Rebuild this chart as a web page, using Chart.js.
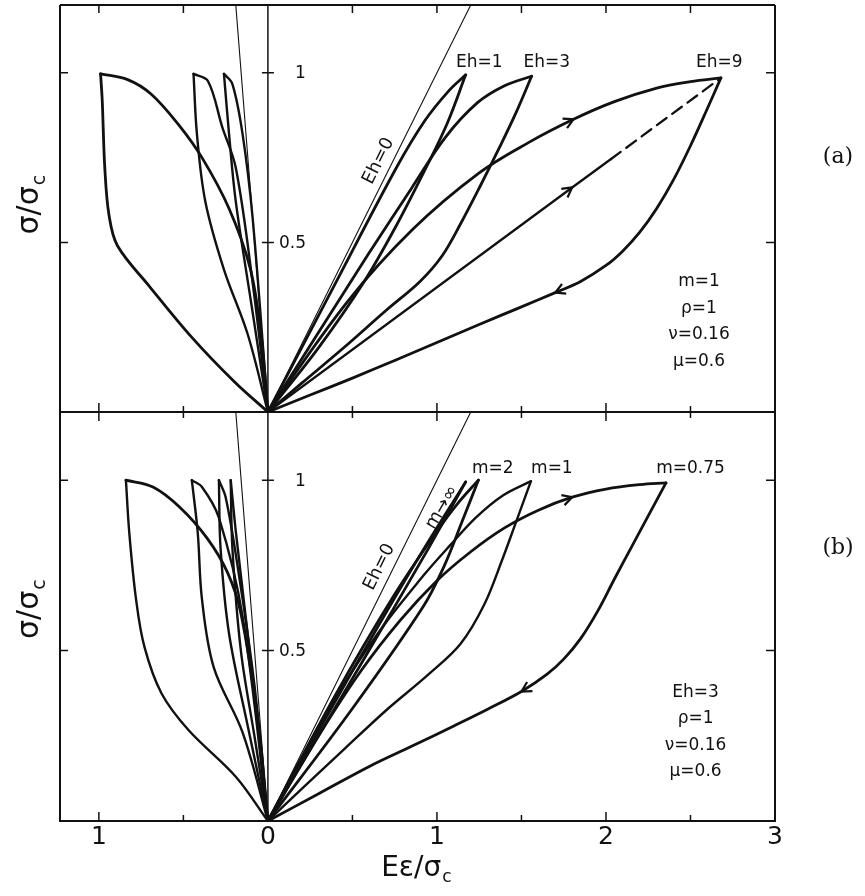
<!DOCTYPE html>
<html>
<head>
<meta charset="utf-8">
<title>Cyclic stress-strain loops</title>
<script src="https://cdn.jsdelivr.net/npm/chart.js@4.4.1/dist/chart.umd.min.js"></script>
<style>
  html, body { margin: 0; padding: 0; background: #fff; }
  #wrap { position: relative; width: 865px; height: 896px; }
  #wrap canvas { position: absolute; left: 0; top: 0; }
</style>
</head>
<body>
<div id="wrap">
  <canvas id="panelA" width="865" height="896"></canvas>
  <canvas id="panelB" width="865" height="896"></canvas>
</div>
<script>
/* ============================================
   DATA   (x = Eε/σc , y = σ/σc)
   ============================================ */
const X_MIN = -1.23, X_MAX = 3, Y_MIN = 0, Y_MAX = 1.2;
const xTickValues = [-1, -0.5, 0.5, 1, 1.5, 2, 2.5];
const xLabelValues = [-1, 0, 1, 2, 3];
const xLabelTexts = ['1', '0', '1', '2', '3'];
const yTickValues = [0.5, 1];
const yTickTexts = ['0.5', '1'];

// panel (a): m = 1, Eh = 0, 1, 3, 9
const aEh0Axial   = [[0, 0], [1.2, 1.2]];
const aEh0Lateral = [[0, 0], [-0.19, 1.2]];
const aEh1Load    = [[0, 0], [0.4, 0.38], [0.76, 0.72], [0.93, 0.86], [1.07, 0.947], [1.17, 0.994]];
const aEh1Unload  = [[1.17, 0.994], [1.06, 0.85], [0.94, 0.725], [0.76, 0.55], [0.57, 0.385], [0.3, 0.19], [0, 0]];
const aEh3Load    = [[0, 0], [0.3, 0.235], [0.6, 0.47], [0.85, 0.66], [1.05, 0.81], [1.24, 0.912], [1.4, 0.962], [1.56, 0.99]];
const aEh3Unload  = [[1.56, 0.99], [1.47, 0.885], [1.37, 0.78], [1.26, 0.67], [1.14, 0.555], [1.03, 0.46], [0.9, 0.385], [0.7, 0.3], [0.45, 0.19], [0.2, 0.085], [0, 0]];
const aEh9Load    = [[0, 0], [0.47, 0.325], [0.86, 0.54], [1.25, 0.705], [1.544, 0.795], [1.808, 0.863], [2.05, 0.915], [2.3, 0.955], [2.5, 0.974], [2.68, 0.985]];
const aEh9Secant  = [[0, 0], [1.8, 0.662], [2.03, 0.746], [2.68, 0.985]];
const aEh9Unload  = [[2.68, 0.985], [2.6, 0.895], [2.5, 0.785], [2.4, 0.685], [2.3, 0.6], [2.2, 0.53], [2.1, 0.475], [2.0, 0.432], [1.85, 0.385], [1.7, 0.352], [1.5, 0.31], [1.25, 0.258], [1.0, 0.205], [0.75, 0.152], [0.5, 0.1], [0.25, 0.05], [0, 0]];
const aEh1LatA    = [[-0.26, 0.997], [-0.21, 0.967], [-0.15, 0.82], [-0.09, 0.57], [0, 0]];
const aEh1LatB    = [[-0.26, 0.997], [-0.23, 0.82], [-0.19, 0.62], [-0.1, 0.325], [0, 0]];
const aEh3LatA    = [[-0.44, 0.997], [-0.355, 0.976], [-0.27, 0.84], [-0.19, 0.72], [-0.09, 0.38], [0, 0]];
const aEh3LatB    = [[-0.44, 0.997], [-0.42, 0.82], [-0.37, 0.62], [-0.26, 0.42], [-0.12, 0.23], [0, 0]];
const aEh9LatA    = [[-0.99, 0.997], [-0.83, 0.98], [-0.69, 0.937], [-0.53, 0.848], [-0.39, 0.75], [-0.23, 0.6], [-0.105, 0.424], [-0.04, 0.227], [0, 0]];
const aEh9LatB    = [[-0.99, 0.997], [-0.98, 0.917], [-0.965, 0.72], [-0.94, 0.58], [-0.89, 0.49], [-0.7, 0.37], [-0.45, 0.22], [-0.2, 0.09], [0, 0]];

// panel (b): Eh = 3, m = ∞, 2, 1, 0.75
const bEh0Axial   = [[0, 0], [1.2, 1.2]];
const bEh0Lateral = [[0, 0], [-0.19, 1.2]];
const bMinfLoad   = [[0, 0], [0.5, 0.44], [0.9, 0.78], [1.17, 0.995]];
const bMinfUnload = [[1.17, 0.995], [0.95, 0.8], [0.55, 0.46], [0, 0]];
const bM2Load     = [[0, 0], [0.4, 0.37], [0.75, 0.665], [1.0, 0.85], [1.12, 0.93], [1.245, 1.0]];
const bM2Unload   = [[1.245, 1.0], [1.15, 0.88], [1.04, 0.745], [0.92, 0.63], [0.5, 0.33], [0, 0]];
const bM1Load     = [[0, 0], [0.35, 0.32], [0.65, 0.55], [0.92, 0.72], [1.08, 0.81], [1.23, 0.89], [1.39, 0.955], [1.556, 0.997]];
const bM1Unload   = [[1.556, 0.997], [1.47, 0.88], [1.385, 0.765], [1.28, 0.635], [1.14, 0.52], [0.95, 0.43], [0.7, 0.325], [0.45, 0.21], [0.2, 0.094], [0, 0]];
const bM075Load   = [[0, 0], [0.3, 0.25], [0.55, 0.44], [0.785, 0.59], [1.0, 0.705], [1.2, 0.79], [1.4, 0.86], [1.6, 0.912], [1.8, 0.95], [2.0, 0.974], [2.2, 0.987], [2.355, 0.992]];
const bM075Unload = [[2.355, 0.992], [2.25, 0.895], [2.15, 0.803], [2.05, 0.71], [1.95, 0.615], [1.85, 0.535], [1.75, 0.475], [1.65, 0.43], [1.5, 0.38], [1.3, 0.328], [1.1, 0.279], [0.85, 0.219], [0.6, 0.16], [0.3, 0.08], [0, 0]];
const bM075LatA   = [[-0.84, 1.0], [-0.68, 0.98], [-0.52, 0.92], [-0.36, 0.83], [-0.24, 0.73], [-0.16, 0.61], [-0.06, 0.3], [0, 0]];
const bM075LatB   = [[-0.84, 1.0], [-0.82, 0.845], [-0.78, 0.65], [-0.73, 0.51], [-0.63, 0.375], [-0.47, 0.267], [-0.19, 0.13], [0, 0]];
const bM1LatA     = [[-0.45, 1.0], [-0.39, 0.98], [-0.29, 0.89], [-0.15, 0.6], [0, 0]];
const bM1LatB     = [[-0.45, 1.0], [-0.415, 0.845], [-0.39, 0.65], [-0.32, 0.45], [-0.15, 0.26], [0, 0]];
const bM2LatA     = [[-0.29, 1.0], [-0.25, 0.95], [-0.18, 0.75], [-0.08, 0.4], [0, 0]];
const bM2LatB     = [[-0.29, 1.0], [-0.28, 0.8], [-0.23, 0.55], [-0.12, 0.28], [0, 0]];
const bMinfLatA   = [[-0.22, 1.0], [-0.19, 0.85], [-0.12, 0.55], [0, 0]];
const bMinfLatB   = [[-0.22, 1.0], [-0.21, 0.8], [-0.16, 0.5], [-0.08, 0.25], [0, 0]];

// annotations
const aPeakTexts = ['Eh=1', 'Eh=3', 'Eh=9'];
const aPeakX = [1.25, 1.65, 2.67];
const aParamTexts = ['m=1', 'ρ=1', 'ν=0.16', 'μ=0.6'];
const aParamY = [0.385, 0.305, 0.228, 0.148];
const bPeakTexts = ['m=2', 'm=1', 'm=0.75'];
const bPeakX = [1.33, 1.68, 2.5];
const bParamTexts = ['Eh=3', 'ρ=1', 'ν=0.16', 'μ=0.6'];
const bParamY = [0.378, 0.3, 0.22, 0.144];

/* ============================================
   HELPERS
   ============================================ */
const FONT = '"DejaVu Sans", sans-serif';
const INK = '#111';
const pts = arr => arr.map(([x, y]) => ({ x, y }));

function curve(arr, width, extra) {
    return Object.assign({
        data: pts(arr),
        showLine: true,
        borderColor: INK,
        borderWidth: width,
        pointRadius: 0,
        tension: 0.35,
        fill: false,
        borderJoinStyle: 'round',
        borderCapStyle: 'round'
    }, extra || {});
}

function drawArrow(ctx, meta, i) {
    const p = meta.data[i], a = meta.data[i - 1], b = meta.data[i + 1];
    const ang = Math.atan2(b.y - a.y, b.x - a.x);
    const L = 11, s = 0.5;
    ctx.beginPath();
    ctx.moveTo(p.x - L * Math.cos(ang - s), p.y - L * Math.sin(ang - s));
    ctx.lineTo(p.x, p.y);
    ctx.lineTo(p.x - L * Math.cos(ang + s), p.y - L * Math.sin(ang + s));
    ctx.stroke();
}

function drawSubText(ctx, main, sub, cx, cy, size) {
    ctx.textAlign = 'left';
    ctx.textBaseline = 'middle';
    ctx.font = `${size}px ${FONT}`;
    const w1 = ctx.measureText(main).width;
    ctx.font = `${Math.round(size * 0.62)}px ${FONT}`;
    const w2 = ctx.measureText(sub).width;
    const x0 = cx - (w1 + w2) / 2;
    ctx.font = `${size}px ${FONT}`;
    ctx.fillText(main, x0, cy);
    ctx.font = `${Math.round(size * 0.62)}px ${FONT}`;
    ctx.fillText(sub, x0 + w1 + 1, cy + size * 0.32);
}

/* ============================================
   PANEL DECORATION (frame, ticks, labels)
   ============================================ */
const panelInfo = {
    panelA: {
        top: true, bottomAxis: false,
        peakTexts: aPeakTexts, peakX: aPeakX, peakY: 1.03,
        paramTexts: aParamTexts, paramY: aParamY, paramX: 2.55,
        rotated: [{ text: 'Eh=0', x: 0.655, y: 0.74, along: [1.2, 1.2] }],
        tag: '(a)', tagY: 0.75, titleY: 0.61
    },
    panelB: {
        top: false, bottomAxis: true,
        peakTexts: bPeakTexts, peakX: bPeakX, peakY: 1.035,
        paramTexts: bParamTexts, paramY: bParamY, paramX: 2.53,
        rotated: [
            { text: 'Eh=0', x: 0.66, y: 0.745, along: [1.2, 1.2] },
            { text: 'm→∞', x: 1.03, y: 0.92, along: [1.17, 0.995] }
        ],
        tag: '(b)', tagY: 0.8, titleY: 0.62
    }
};

const framePlugin = {
    id: 'frame',
    afterDatasetsDraw(chart) {
        const info = panelInfo[chart.canvas.id];
        const { ctx, chartArea: a, scales: { x, y } } = chart;
        ctx.save();
        ctx.strokeStyle = INK;
        ctx.fillStyle = INK;
        ctx.lineCap = 'butt';

        // arrows on loading / unloading branches
        ctx.lineWidth = 2.2;
        chart.data.datasets.forEach((ds, i) => {
            if (ds.arrowAt != null) drawArrow(ctx, chart.getDatasetMeta(i), ds.arrowAt);
        });

        // box
        ctx.lineWidth = 2;
        ctx.beginPath();
        if (info.top) { ctx.moveTo(a.left, a.top); ctx.lineTo(a.right, a.top); }
        ctx.moveTo(a.left, a.top); ctx.lineTo(a.left, a.bottom);
        ctx.moveTo(a.right, a.top); ctx.lineTo(a.right, a.bottom);
        ctx.moveTo(a.left - 1, a.bottom); ctx.lineTo(a.right + 1, a.bottom);
        ctx.stroke();

        // x ticks
        ctx.lineWidth = 1.5;
        xTickValues.forEach(v => {
            const px = x.getPixelForValue(v);
            const len = Number.isInteger(v) ? 9 : 6;
            ctx.beginPath();
            if (info.top) { ctx.moveTo(px, a.top); ctx.lineTo(px, a.top + 8); }
            ctx.moveTo(px, a.bottom - len);
            ctx.lineTo(px, a.bottom + (info.bottomAxis ? 0 : len));
            ctx.stroke();
        });

        // central axis at x = 0 with its ticks and labels
        const x0 = x.getPixelForValue(0);
        ctx.beginPath(); ctx.moveTo(x0, a.top); ctx.lineTo(x0, a.bottom); ctx.stroke();
        ctx.font = `17px ${FONT}`;
        ctx.textBaseline = 'middle';
        ctx.textAlign = 'left';
        yTickValues.forEach((v, i) => {
            const py = y.getPixelForValue(v);
            ctx.beginPath();
            ctx.moveTo(a.left, py); ctx.lineTo(a.left + 8, py);
            ctx.moveTo(a.right, py); ctx.lineTo(a.right - 9, py);
            ctx.moveTo(x0 - 6, py); ctx.lineTo(x0 + 6, py);
            ctx.stroke();
            ctx.fillText(yTickTexts[i], x0 + (v === 1 ? 27 : 11), py + 1);
        });

        // bottom tick labels and axis title
        if (info.bottomAxis) {
            ctx.font = `25px ${FONT}`;
            ctx.textAlign = 'center';
            ctx.textBaseline = 'top';
            xLabelValues.forEach((v, i) => {
                ctx.fillText(xLabelTexts[i], x.getPixelForValue(v), a.bottom + 4);
            });
            drawSubText(ctx, 'Eε/σ', 'c', x.getPixelForValue(0.875), a.bottom + 48, 28);
        }

        // peak labels
        ctx.font = `17px ${FONT}`;
        ctx.textAlign = 'center';
        ctx.textBaseline = 'middle';
        info.peakTexts.forEach((t, i) => {
            ctx.fillText(t, x.getPixelForValue(info.peakX[i]), y.getPixelForValue(info.peakY));
        });

        // parameter block
        info.paramTexts.forEach((t, i) => {
            ctx.fillText(t, x.getPixelForValue(info.paramX), y.getPixelForValue(info.paramY[i]));
        });

        // labels written along lines
        ctx.font = `18px ${FONT}`;
        info.rotated.forEach(r => {
            const dx = x.getPixelForValue(r.along[0]) - x0;
            const dy = y.getPixelForValue(r.along[1]) - y.getPixelForValue(0);
            ctx.save();
            ctx.translate(x.getPixelForValue(r.x), y.getPixelForValue(r.y));
            ctx.rotate(Math.atan2(dy, dx));
            ctx.fillText(r.text, 0, 0);
            ctx.restore();
        });

        // panel tag
        ctx.font = `22px "DejaVu Serif", serif`;
        ctx.fillText(info.tag, a.right + 63, y.getPixelForValue(info.tagY));

        // y title
        ctx.save();
        ctx.translate(a.left - 30, y.getPixelForValue(info.titleY));
        ctx.rotate(-Math.PI / 2);
        drawSubText(ctx, 'σ/σ', 'c', 0, 0, 30);
        ctx.restore();

        ctx.restore();
    }
};

/* ============================================
   CHARTS
   ============================================ */
function makePanel(id, datasets, padding) {
    return new Chart(document.getElementById(id), {
        type: 'scatter',
        data: { datasets },
        options: {
            responsive: false,
            animation: false,
            events: [],
            devicePixelRatio: 1,
            layout: { padding },
            plugins: { legend: { display: false }, tooltip: { enabled: false } },
            scales: {
                x: { type: 'linear', min: X_MIN, max: X_MAX, display: false },
                y: { type: 'linear', min: Y_MIN, max: Y_MAX, display: false }
            }
        },
        plugins: [framePlugin]
    });
}

const THICK = 2.8, LAT = 2.4, THIN = 1.1;

makePanel('panelA', [
    curve(aEh0Axial, THIN, { tension: 0 }),
    curve(aEh0Lateral, THIN, { tension: 0 }),
    curve(aEh1Load, THICK),
    curve(aEh1Unload, THICK),
    curve(aEh3Load, THICK),
    curve(aEh3Unload, THICK),
    curve(aEh9Load, THICK, { arrowAt: 5 }),
    curve(aEh9Secant, 2.3, {
        tension: 0, arrowAt: 1,
        segment: { borderDash: ctx => ctx.p0DataIndex >= 2 ? [12, 7] : undefined }
    }),
    curve(aEh9Unload, THICK, { arrowAt: 9 }),
    curve(aEh1LatA, LAT),
    curve(aEh1LatB, LAT),
    curve(aEh3LatA, LAT),
    curve(aEh3LatB, LAT),
    curve(aEh9LatA, THICK),
    curve(aEh9LatB, THICK)
], { left: 60, right: 90, top: 5, bottom: 484 });

makePanel('panelB', [
    curve(bEh0Axial, THIN, { tension: 0 }),
    curve(bEh0Lateral, THIN, { tension: 0 }),
    curve(bMinfLoad, THICK),
    curve(bMinfUnload, THICK),
    curve(bM2Load, THICK),
    curve(bM2Unload, THICK),
    curve(bM1Load, LAT),
    curve(bM1Unload, LAT),
    curve(bM075Load, THICK, { arrowAt: 8 }),
    curve(bM075Unload, THICK, { arrowAt: 8 }),
    curve(bM075LatA, THICK),
    curve(bM075LatB, LAT),
    curve(bM1LatA, LAT),
    curve(bM1LatB, LAT),
    curve(bM2LatA, LAT),
    curve(bM2LatB, LAT),
    curve(bMinfLatA, LAT),
    curve(bMinfLatB, LAT)
], { left: 60, right: 90, top: 412, bottom: 75 });
</script>
</body>
</html>
